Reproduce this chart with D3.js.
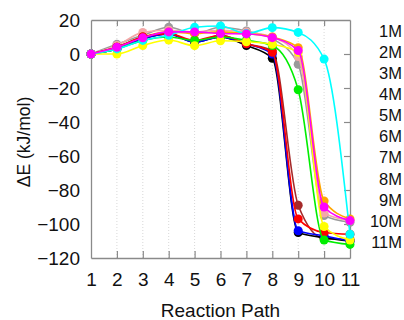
<!DOCTYPE html>
<html>
<head>
<meta charset="utf-8">
<script src="https://cdn.jsdelivr.net/npm/d3@7"></script>
<style>
  html, body { margin: 0; padding: 0; background: #fff; }
  svg { display: block; font-family: "Liberation Sans", Arial, sans-serif; }
</style>
</head>
<body>
<svg id="chart" width="404" height="320"></svg>
<script>
// ---- data ----
const steps = [1, 2, 3, 4, 5, 6, 7, 8, 9, 10, 11];
const yTicks = [20, 0, -20, -40, -60, -80, -100, -120];
const legendLabels = ["1M", "2M", "3M", "4M", "5M", "6M", "7M", "8M", "9M", "10M", "11M"];

const grayVals    = [0, 5.7, 11, 15.7, 12, 15.7, 13.5, 9, -6, -95, -99];
const pinkVals    = [0, 5, 12.7, 14, 13, 14, 13, 10, -1.5, -93.5, -98];
const orangeVals  = [0, 4, 10, 13, 12, 13, 12, 10, 3.7, -86.5, -97];
const brownVals   = [0, 4, 10, 12, 7, 11, 6, 2, -89, -108.6, -109];
const blackVals   = [0, 3, 9, 12, 7, 10, 5, -2.5, -105, -108, -110];
const blueVals    = [0, 3, 9, 11.6, 7, 10, 6, 0, -104, -107, -110];
const redVals     = [0, 4, 10, 12, 8, 11, 6, 1, -97, -105, -106];
const greenVals   = [0, 3, 8, 10, 8, 10, 8, 5, -21, -109.4, -112];
const yellowVals  = [0, 0, 5, 8.2, 4.9, 7.8, 7.2, 5.7, 1, -101.5, -109.4];
const cyanVals    = [0, 3, 8, 11, 15.7, 16.5, 12, 15.5, 12.7, -3, -106];
const magentaVals = [0, 4, 9.5, 13, 13, 12, 11.8, 9.6, 2, -90, -98];

const seriesValues = [grayVals, pinkVals, orangeVals, brownVals, blackVals, blueVals,
                      redVals, greenVals, yellowVals, cyanVals, magentaVals];
const seriesColors = ["#9a9a9a", "#f4a8a8", "#ffa500", "#a52a2a", "#000000", "#0000ff",
                      "#ff0000", "#00ee00", "#ffff00", "#00ffff", "#ff00ff"];

// ---- layout ----
const svg = d3.select("#chart");
const L = 91, R = 350, T = 20, B = 258;
const x = d3.scaleLinear().domain([1, 11]).range([L, R]);
const y = d3.scaleLinear().domain([-120, 20]).range([B, T]);

// vertical dotted grid
svg.append("g").selectAll("line").data(steps.slice(1, -1)).join("line")
  .attr("x1", d => x(d)).attr("x2", d => x(d))
  .attr("y1", T).attr("y2", B)
  .attr("stroke", "#d8d8d8").attr("stroke-width", 1)
  .attr("stroke-dasharray", "1,2");

const frameColor = "#8a8a8a";
// bottom axis (ticks inward)
const xAxisB = svg.append("g").attr("transform", `translate(0,${B})`)
  .call(d3.axisBottom(x).tickValues(steps).tickFormat(d3.format("d")).tickSizeInner(-7).tickSizeOuter(0).tickPadding(15));
// top axis
const xAxisT = svg.append("g").attr("transform", `translate(0,${T})`)
  .call(d3.axisTop(x).tickValues(steps).tickFormat("").tickSizeInner(-6).tickSizeOuter(0));
// left axis (no ticks)
const yAxisL = svg.append("g").attr("transform", `translate(${L},0)`)
  .call(d3.axisLeft(y).tickValues(yTicks).tickSizeInner(0).tickSizeOuter(0).tickPadding(11));
// right axis ticks inward
const yAxisR = svg.append("g").attr("transform", `translate(${R},0)`)
  .call(d3.axisRight(y).tickValues(yTicks).tickFormat("").tickSizeInner(-6).tickSizeOuter(0));

[xAxisB, xAxisT, yAxisL, yAxisR].forEach(g => {
  g.selectAll("path.domain").attr("stroke", frameColor).attr("stroke-width", 1.3);
  g.selectAll(".tick line").attr("stroke", frameColor).attr("stroke-width", 1.2);
  g.selectAll("text").attr("fill", "#111").attr("font-size", 19)
    .attr("font-family", "Liberation Sans, Arial, sans-serif");
});
xAxisB.selectAll(".tick line").filter(d => d === 1 || d === 11).remove();
xAxisT.selectAll(".tick line").filter(d => d === 1 || d === 11).remove();
yAxisR.selectAll(".tick line").filter(d => d === 20 || d === -120).remove();
yAxisL.selectAll("text").attr("dy", "0.36em");

// series
const line = d3.line()
  .x((d, i) => x(steps[i]))
  .y(d => y(d))
  .curve(d3.curveMonotoneX);

const plot = svg.append("g");
seriesValues.forEach((vals, k) => {
  const g = plot.append("g");
  g.append("path").datum(vals)
    .attr("d", line).attr("fill", "none")
    .attr("stroke", seriesColors[k]).attr("stroke-width", 1.6);
  g.selectAll("circle").data(vals).join("circle")
    .attr("cx", (d, i) => x(steps[i])).attr("cy", d => y(d))
    .attr("r", 4.5).attr("fill", seriesColors[k]);
});

// axis titles
svg.append("text")
  .attr("transform", `translate(30,142) rotate(-90)`)
  .attr("text-anchor", "middle")
  .attr("font-size", 17.5).attr("fill", "#111")
  .text("ΔE (kJ/mol)");
svg.append("text")
  .attr("x", (L + R) / 2).attr("y", 317)
  .attr("text-anchor", "middle")
  .attr("font-size", 19).attr("fill", "#111")
  .text("Reaction Path");

// legend labels
const ly = d3.scalePoint().domain(legendLabels).range([36.7, 248]);
svg.append("g").selectAll("text").data(legendLabels).join("text")
  .attr("x", 402).attr("y", d => ly(d))
  .attr("text-anchor", "end")
  .attr("font-size", 16.5).attr("fill", "#111")
  .text(d => d);
</script>
</body>
</html>
